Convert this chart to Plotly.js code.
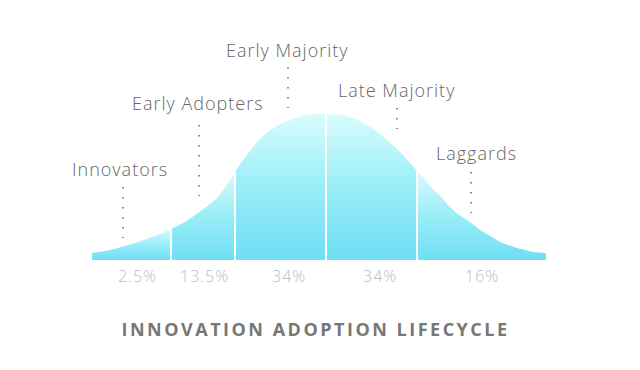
<!DOCTYPE html>
<html>
<head>
<meta charset="utf-8">
<script src="https://cdn.plot.ly/plotly-3.0.1.min.js"></script>
<style>
  html, body { margin: 0; padding: 0; background: #ffffff; }
  #chart { width: 640px; height: 370px; }
  .gtitle { letter-spacing: 2.5px; }
  .annotation-text { letter-spacing: 1px; }
</style>
</head>
<body>
<div id="chart"></div>
<script>
// ---- Data (curve height above baseline) ----
const curveX = [92, 105, 118, 135, 152, 171, 185, 198, 210, 218, 226, 235, 241, 247, 253, 262, 270, 279, 287, 295, 303, 314, 326, 340, 353, 362, 370, 379, 387, 395, 403, 410, 417, 425, 433, 442, 450, 458, 467, 475, 483, 492, 500, 508, 517, 525, 533, 540, 546];
const curveY = [7, 9, 12, 17, 23, 31, 38, 47, 56, 63, 74, 88, 97, 105, 113, 123, 130, 135, 139, 142, 144, 146, 146, 145, 142, 138, 133, 127, 120, 113, 105, 97, 89, 80, 71, 62, 53, 46, 40, 34, 28, 23, 18, 15, 12, 10, 8, 7.5, 7];
const segmentBounds = [92, 171, 235, 326, 417, 546];
const categoryNames = ["Innovators", "Early Adopters", "Early Majority", "Late Majority", "Laggards"];
const shareLabels = ["2.5%", "13.5%", "34%", "34%", "16%"];
const chartTitle = "INNOVATION ADOPTION LIFECYCLE";

// ---- Layout configuration (positions, styles) ----
const nameLabelPos = [
  {x: 120, y: 91}, {x: 198, y: 157}, {x: 287, y: 210}, {x: 396, y: 170}, {x: 476, y: 107}
];
const leaderPos = [
  {x: 123, top: 73, bottom: 22}, {x: 199, top: 135, bottom: 64}, {x: 288, top: 193, bottom: 152},
  {x: 397, top: 152, bottom: 131}, {x: 471, top: 88, bottom: 47}
];
const shareLabelX = [137, 204, 289, 380, 482];
const shareLabelY = -16;

const traces = [];
// Segments of the curve, each filled with a vertical gradient
for (let s = 0; s < segmentBounds.length - 1; s++) {
  const a = segmentBounds[s], b = segmentBounds[s + 1];
  const xs = [], ys = [];
  curveX.forEach((x, i) => { if (x >= a && x <= b) { xs.push(x); ys.push(curveY[i]); } });
  const top = Math.max(...ys);
  traces.push({
    type: 'scatter', mode: 'lines', x: xs, y: ys,
    line: {width: 0, shape: 'spline', smoothing: 0.6, color: 'rgba(0,0,0,0)'},
    fill: 'tozeroy',
    fillgradient: {type: 'vertical', start: 0, stop: top,
      colorscale: [[0, '#6edff4'], [0.5, '#9aedf8'], [1, '#d8fcfd']]},
    hoverinfo: 'skip', showlegend: false
  });
}
// White dividers at inner segment boundaries
for (let s = 1; s < segmentBounds.length - 1; s++) {
  const b = segmentBounds[s];
  const h = curveY[curveX.indexOf(b)];
  traces.push({
    type: 'scatter', mode: 'lines', x: [b, b], y: [0, h],
    line: {color: '#ffffff', width: 2}, hoverinfo: 'skip', showlegend: false
  });
}

const labelFont = '"Open Sans", Lato, sans-serif';
const annotations = [];
categoryNames.forEach((name, i) => {
  annotations.push({
    x: nameLabelPos[i].x, y: nameLabelPos[i].y, xref: 'x', yref: 'y',
    text: name, showarrow: false, xanchor: 'center', yanchor: 'middle',
    font: {family: labelFont, size: 18, color: '#666666', weight: 300}
  });
});
shareLabels.forEach((t, i) => {
  annotations.push({
    x: shareLabelX[i], y: shareLabelY, xref: 'x', yref: 'y',
    text: t, showarrow: false, xanchor: 'center', yanchor: 'middle',
    font: {family: labelFont, size: 16, color: '#bdbdbd', weight: 300}
  });
});

const shapes = leaderPos.map(p => ({
  type: 'line', xref: 'x', yref: 'y', x0: p.x, x1: p.x, y0: p.top, y1: p.bottom,
  line: {color: '#666666', width: 1.5, dash: '1.5px,8.5px'}
}));

const layout = {
  width: 640, height: 370,
  margin: {l: 0, r: 0, t: 0, b: 0, pad: 0},
  paper_bgcolor: '#ffffff', plot_bgcolor: '#ffffff',
  title: {
    text: chartTitle, x: 0.493, xanchor: 'center', y: 1 - 330 / 370, yanchor: 'middle',
    xref: 'paper', yref: 'paper',
    font: {family: '"Open Sans", Roboto, sans-serif', size: 18, color: '#777777', weight: 700}
  },
  xaxis: {range: [0, 640], visible: false, fixedrange: true},
  yaxis: {range: [-110, 260], visible: false, fixedrange: true},
  showlegend: false,
  annotations: annotations,
  shapes: shapes
};

Plotly.newPlot('chart', traces, layout, {displayModeBar: false, staticPlot: true});
</script>
</body>
</html>
